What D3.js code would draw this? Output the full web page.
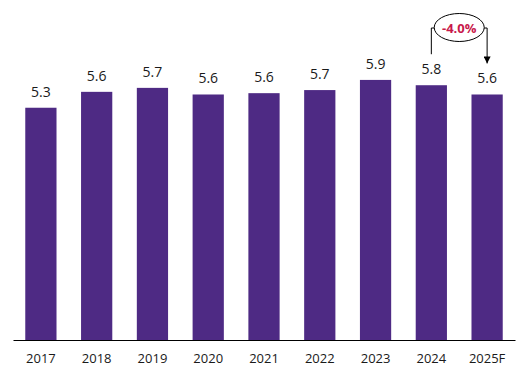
<!DOCTYPE html>
<html>
<head>
<meta charset="utf-8">
<script src="https://cdn.jsdelivr.net/npm/d3@7"></script>
<style>
  body { margin: 0; background: #fff; }
  svg { display: block; font-family: "Open Sans", "Noto Sans", sans-serif; }
</style>
</head>
<body>
<svg id="chart" width="529" height="380"></svg>
<script>
// chart data
var years = ["2017", "2018", "2019", "2020", "2021", "2022", "2023", "2024", "2025F"];
var values = [5.26, 5.62, 5.71, 5.56, 5.59, 5.66, 5.89, 5.77, 5.56];
var changeLabel = "-4.0%";
var changeFrom = "2024";
var changeTo = "2025F";

const margin = {top: 0, right: 14, bottom: 40, left: 13};
const width = 529, height = 380;
const baseY = height - margin.bottom;

var svg = d3.select("#chart");

var x = d3.scaleBand()
    .domain(years)
    .range([margin.left, width - margin.right])
    .paddingInner(0.44)
    .paddingOuter(0.22);

var y = d3.scaleLinear()
    .domain([0, 7.7])
    .range([baseY, 0]);

// bars
svg.append("g")
    .selectAll("rect")
    .data(values)
    .enter()
    .append("rect")
    .attr("x", (d, i) => x(years[i]))
    .attr("y", d => y(d))
    .attr("width", x.bandwidth())
    .attr("height", d => baseY - y(d))
    .style("fill", "#4e2a84");

// value labels
svg.append("g")
    .selectAll("text")
    .data(values)
    .enter()
    .append("text")
    .attr("x", (d, i) => x(years[i]) + x.bandwidth() / 2)
    .attr("y", d => y(d) - 11)
    .attr("text-anchor", "middle")
    .style("font-size", "14px")
    .style("fill", "#1a1a1a")
    .text(d => d.toFixed(1));

// x axis
var xAxis = d3.axisBottom(x).tickSize(0).tickPadding(14);
var ax = svg.append("g")
    .attr("transform", "translate(0," + baseY + ")")
    .call(xAxis);
ax.select(".domain").attr("stroke", "#000").attr("stroke-width", 1.2);
ax.selectAll("text")
    .style("font-size", "13px")
    .style("fill", "#1a1a1a")
    .style("font-family", "\"Open Sans\", \"Noto Sans\", sans-serif");

// change annotation
var x1 = x(changeFrom) + x.bandwidth() / 2;
var x2 = x(changeTo) + x.bandwidth() / 2;
var i1 = years.indexOf(changeFrom), i2 = years.indexOf(changeTo);
var cx = (x1 + x2) / 2, cy = 27.5;
var note = svg.append("g");

svg.append("defs").append("marker")
    .attr("id", "arrow")
    .attr("viewBox", "0 0 10 10")
    .attr("refX", 10).attr("refY", 5)
    .attr("markerWidth", 7).attr("markerHeight", 7)
    .attr("markerUnits", "userSpaceOnUse")
    .attr("orient", "auto")
    .append("path")
    .attr("d", "M0,0 L10,5 L0,10 Z")
    .attr("fill", "#000");

note.append("path")
    .attr("d", `M${x1},${y(values[i1]) - 31} V${cy + 0.5} H${cx - 24}`)
    .attr("fill", "none").attr("stroke", "#000").attr("stroke-width", 1);

note.append("path")
    .attr("d", `M${cx + 24},${cy + 0.5} H${x2} V${y(values[i2]) - 31}`)
    .attr("fill", "none").attr("stroke", "#000").attr("stroke-width", 1)
    .attr("marker-end", "url(#arrow)");

note.append("ellipse")
    .attr("cx", cx).attr("cy", cy)
    .attr("rx", 25).attr("ry", 14)
    .attr("fill", "#fff").attr("stroke", "#000").attr("stroke-width", 1);

note.append("text")
    .attr("x", cx).attr("y", cy + 5)
    .attr("text-anchor", "middle")
    .style("font-size", "13px")
    .style("font-weight", "bold")
    .style("fill", "#c8194b")
    .text(changeLabel);
</script>
</body>
</html>
